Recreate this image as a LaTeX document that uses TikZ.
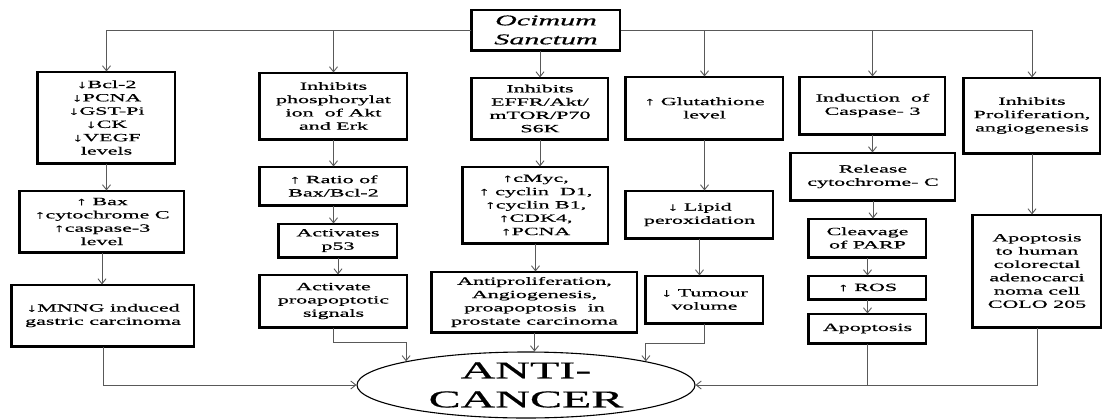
\documentclass[tikz,border=0pt]{standalone}
\usepackage{fontspec}
\setmainfont{Liberation Serif}[FakeStretch=2.0, FakeBold=0.6]
\usetikzlibrary{shapes.geometric}
\usetikzlibrary{arrows.meta}
\newcommand{\boxfont}{\fontsize{11}{13.3}\selectfont}
\tikzset{
  box/.style={draw, line width=1.1pt, align=center, inner sep=1pt, font=\boxfont,
    append after command={\pgfextra{\draw[line width=2.2pt] (\tikzlastnode.north west) -- (\tikzlastnode.south west) -- (\tikzlastnode.south east);}}},
  link/.style={draw=black!65, line width=0.9pt, -{Straight Barb[length=5pt,width=8pt]}},
  plain/.style={draw=black!65, line width=0.9pt}
}
\begin{document}
\begin{tikzpicture}[x=1pt, y=-1pt]
\useasboundingbox (0,0) rectangle (1105,418);
% root
\node[box, minimum width=148pt, minimum height=40pt, font=\fontsize{15}{19}\selectfont\itshape] (O) at (546,30) {Ocimum\\Sanctum};
% first column
\node[box, minimum width=137pt, minimum height=91pt] (a1) at (106.5,117.5) {↓Bcl-2\\↓PCNA\\↓GST-Pi\\↓CK\\↓VEGF\\levels};
\node[box, minimum width=164pt, minimum height=61pt] (a2) at (102,221.5) {↑ Bax\\↑cytochrome C\\↑caspase-3\\level};
\node[box, minimum width=182pt, minimum height=61pt] (a3) at (103,315.5) {↓MNNG induced\\gastric carcinoma};
% second column
\node[box, minimum width=147pt, minimum height=66pt] (b1) at (333.5,106) {Inhibits\\phosphorylat\\ion\ \ of Akt\\and Erk};
\node[box, minimum width=147pt, minimum height=38pt] (b2) at (333.5,186) {↑ Ratio of\\Bax/Bcl-2};
\node[box, minimum width=118pt, minimum height=33pt] (b3) at (338,240.5) {Activates\\p53};
\node[box, minimum width=147pt, minimum height=52pt] (b4) at (333.5,301) {Activate\\proapoptotic\\signals};
% third column
\node[box, minimum width=136pt, minimum height=61pt] (c1) at (540,108.5) {Inhibits\\EFFR/Akt/\\mTOR/P70\\S6K};
\node[box, minimum width=145pt, minimum height=76pt] (c2) at (535.5,205) {↑cMyc,\\↑ cyclin\ \ D1,\\↑cyclin B1,\\↑CDK4,\\↑PCNA};
\node[box, minimum width=205pt, minimum height=60pt] (c3) at (534.5,302) {Antiproliferation,\\Angiogenesis,\\proapoptosis\ \ in\\prostate carcinoma};
% fourth column
\node[box, minimum width=157pt, minimum height=62pt] (d1) at (704.5,108) {↑ Glutathione\\level};
\node[box, minimum width=147pt, minimum height=47pt] (d2) at (699.5,214.5) {↓ Lipid\\peroxidation};
\node[box, minimum width=117pt, minimum height=47pt] (d3) at (704.5,299.5) {↓ Tumour\\volume};
% fifth column
\node[box, minimum width=145pt, minimum height=57pt] (e1) at (872.5,105.5) {Induction\ \ of\\Caspase- 3};
\node[box, minimum width=164pt, minimum height=47pt] (e2) at (873,176.5) {Release\\cytochrome- C};
\node[box, minimum width=117pt, minimum height=38pt] (e3) at (867.5,238) {Cleavage\\of PARP};
\node[box, minimum width=117pt, minimum height=23pt] (e4) at (867.5,287.5) {↑ ROS};
\node[box, minimum width=117pt, minimum height=29pt] (e5) at (867.5,328.5) {Apoptosis};
% sixth column
\node[box, minimum width=136pt, minimum height=75pt] (f1) at (1032,115.5) {Inhibits\\Proliferation,\\angiogenesis};
\node[box, minimum width=128pt, minimum height=112pt] (f2) at (1037,271) {Apoptosis\\to human\\colorectal\\adenocarci\\noma cell\\COLO 205};
% result
\node[ellipse, draw, line width=1.1pt, minimum width=338pt, minimum height=66pt, inner sep=0pt, align=center, font=\fontsize{24}{29}\selectfont] (ac) at (526,385) {ANTI-\\CANCER};
% from the root
\foreach \n in {a1,b1} \draw[link] (O.west) -| (\n.north);
\foreach \n in {d1,e1,f1} \draw[link] (O.east) -| (\n.north);
\draw[link] (O.south -| c1.north) -- (c1.north);
% down the columns
\foreach \u/\v in {a1/a2,a2/a3,b1/b2,b2/b3,b3/b4,c1/c2,c2/c3,d1/d2,d2/d3,e1/e2,e2/e3,e3/e4,e4/e5,f1/f2}
  \draw[link] (\u.south) -- (\u.south |- \v.north);
% into the result
\draw[link] (a3.south) |- (ac.west);
\draw[link] (b4.south) -- ++(0,15) -| (ac.north west);
\draw[link] (c3.south) -- (c3.south |- ac.north);
\draw[link] (d3.south) -- ++(0,20) -| (ac.north east);
\draw[plain] (e5.south) -- (e5.south |- ac.east);
\draw[link] (f2.south) |- (ac.east);
\end{tikzpicture}
\end{document}
